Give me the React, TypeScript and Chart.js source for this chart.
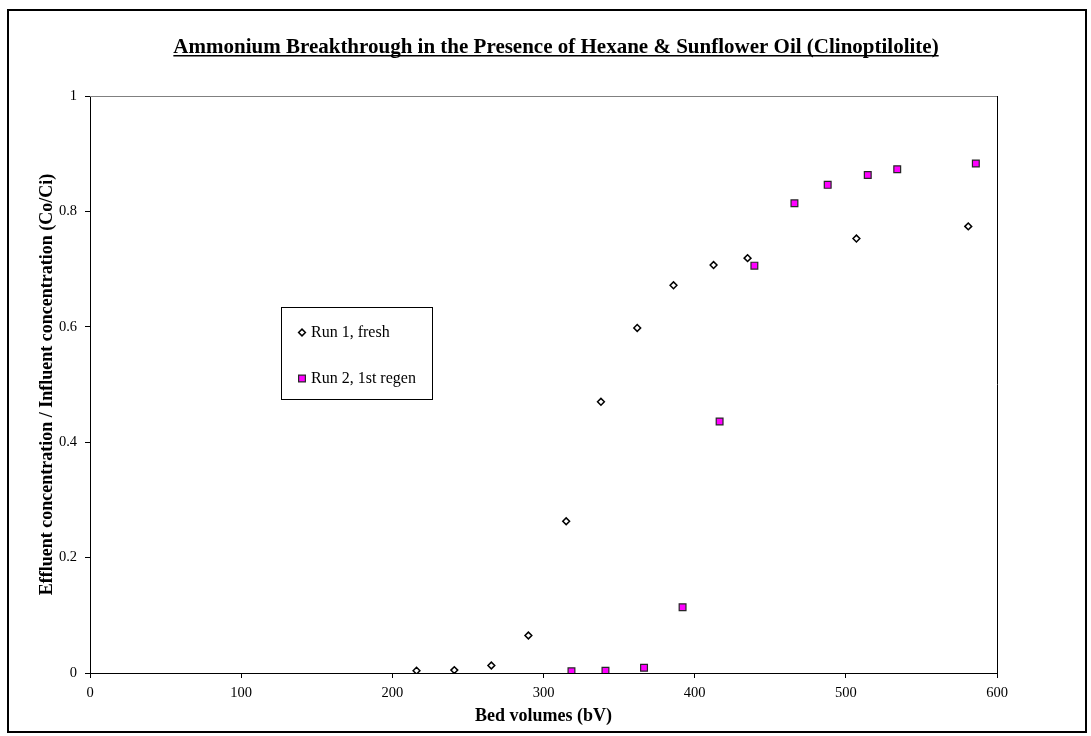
import React, { useEffect, useRef } from 'react';
import { Chart, registerables } from 'chart.js';

Chart.register(...registerables);

const CHART_TITLE = 'Ammonium Breakthrough in the Presence of Hexane & Sunflower Oil (Clinoptilolite)';
const X_TITLE = 'Bed volumes (bV)';
const Y_TITLE = 'Effluent concentration / Influent concentration (Co/Ci)';
const SERIES_LABELS = ['Run 1, fresh', 'Run 2, 1st regen'];

const run1X = [216, 241, 265.5, 290, 315, 338, 362, 386, 412.5, 435, 507, 581];
const run1Y = [0.004, 0.005, 0.013, 0.065, 0.263, 0.47, 0.598, 0.672, 0.707, 0.719, 0.753, 0.774];
const run2X = [318.5, 341, 366.5, 392, 416.5, 439.5, 466, 488, 514.5, 534, 586];
const run2Y = [0.003, 0.004, 0.009, 0.114, 0.436, 0.706, 0.814, 0.846, 0.863, 0.873, 0.883];

const X_MIN = 0;
const X_MAX = 600;
const X_STEP = 100;
const Y_MIN = 0;
const Y_MAX = 1;
const Y_STEP = 0.2;

const SERIF = '"Liberation Serif", "Times New Roman", serif';

function drawMarker(ctx: CanvasRenderingContext2D, ds: any, x: number, y: number) {
  ctx.save();
  ctx.fillStyle = ds.backgroundColor;
  ctx.strokeStyle = ds.borderColor;
  ctx.lineWidth = ds.borderWidth;
  ctx.beginPath();
  const r = ds.pointRadius;
  if (ds.pointStyle === 'rectRot') {
    ctx.moveTo(x - r, y);
    ctx.lineTo(x, y - r);
    ctx.lineTo(x + r, y);
    ctx.lineTo(x, y + r);
    ctx.closePath();
  } else {
    const s = r * Math.SQRT1_2;
    ctx.rect(x - s, y - s, 2 * s, 2 * s);
  }
  ctx.fill();
  ctx.stroke();
  ctx.restore();
}

const decorPlugin = {
  id: 'decor',
  beforeDatasetsDraw(chart: any) {
    const { ctx, chartArea: a } = chart;
    ctx.save();
    ctx.lineWidth = 1;
    ctx.strokeStyle = '#808080';
    ctx.beginPath();
    ctx.moveTo(a.left, a.top + 0.5);
    ctx.lineTo(a.right + 1, a.top + 0.5);
    ctx.stroke();
    ctx.strokeStyle = '#000000';
    ctx.beginPath();
    ctx.moveTo(a.right + 0.5, a.top);
    ctx.lineTo(a.right + 0.5, a.bottom);
    ctx.stroke();
    ctx.restore();
  },
  afterDraw(chart: any) {
    const { ctx } = chart;
    ctx.save();
    // Title with underline
    ctx.font = `bold 21px ${SERIF}`;
    ctx.fillStyle = '#000';
    ctx.textAlign = 'center';
    ctx.textBaseline = 'alphabetic';
    const cx = 556;
    const by = 53;
    ctx.fillText(CHART_TITLE, cx, by);
    const w = ctx.measureText(CHART_TITLE).width;
    ctx.fillRect(cx - w / 2, by + 2, w, 1.5);

    // Legend box
    const lx = 281.5, ly = 307.5, lw = 151, lh = 92;
    ctx.fillStyle = '#fff';
    ctx.fillRect(lx, ly, lw, lh);
    ctx.strokeStyle = '#000';
    ctx.lineWidth = 1;
    ctx.strokeRect(lx, ly, lw, lh);
    const rows = [332.5, 378.5];
    ctx.font = `16px ${SERIF}`;
    ctx.textAlign = 'left';
    ctx.textBaseline = 'middle';
    chart.data.datasets.forEach((ds: any, i: number) => {
      drawMarker(ctx, ds, 302, rows[i]);
      ctx.fillStyle = '#000';
      ctx.fillText(ds.label, 311, rows[i]);
    });
    ctx.restore();
  },
};

const fmt = (v: any) => String(Number(Number(v).toFixed(2)));

export default function App() {
  const canvasRef = useRef<HTMLCanvasElement | null>(null);

  useEffect(() => {
    const canvas = canvasRef.current;
    if (!canvas) return;
    const tickFont = { family: SERIF, size: 14.5 };
    const titleFont = { family: SERIF, size: 18, weight: 'bold' as const };
    const chart = new Chart(canvas, {
      type: 'scatter',
      data: {
        datasets: [
          {
            label: SERIES_LABELS[0],
            data: run1X.map((x, i) => ({ x, y: run1Y[i] })),
            pointStyle: 'rectRot',
            pointRadius: 3.4,
            backgroundColor: '#ffffff',
            borderColor: '#000000',
            borderWidth: 1.5,
            showLine: false,
          },
          {
            label: SERIES_LABELS[1],
            data: run2X.map((x, i) => ({ x, y: run2Y[i] })),
            pointStyle: 'rect',
            pointRadius: 4.8,
            backgroundColor: '#ff00ff',
            borderColor: '#262626',
            borderWidth: 1.2,
            showLine: false,
          },
        ],
      },
      options: {
        responsive: false,
        animation: false,
        layout: { padding: { left: 0, right: 94, top: 96, bottom: 0 } },
        plugins: {
          legend: { display: false },
          title: { display: false },
          tooltip: { enabled: false },
        },
        scales: {
          x: {
            type: 'linear',
            min: X_MIN,
            max: X_MAX,
            ticks: { stepSize: X_STEP, font: tickFont, color: '#000', padding: 6, maxRotation: 0, callback: fmt },
            grid: { drawOnChartArea: false, drawTicks: true, tickLength: 5, color: '#000' },
            border: { display: true, color: '#000', width: 1 },
            title: { display: true, text: X_TITLE, font: titleFont, color: '#000', padding: { top: 0, bottom: 9 } },
            afterFit: (s: any) => { s.height = 63; },
          },
          y: {
            type: 'linear',
            min: Y_MIN,
            max: Y_MAX,
            ticks: { stepSize: Y_STEP, font: tickFont, color: '#000', padding: 8, callback: fmt },
            grid: { drawOnChartArea: false, drawTicks: true, tickLength: 5, color: '#000' },
            border: { display: true, color: '#000', width: 1 },
            title: { display: true, text: Y_TITLE, font: titleFont, color: '#000', padding: { top: 37, bottom: 0 } },
            afterFit: (s: any) => { s.width = 90; },
          },
        },
      },
      plugins: [decorPlugin],
    } as any);
    return () => chart.destroy();
  }, []);

  return (
    <div style={{ position: 'absolute', left: 0, top: 0, width: 1091, height: 736, background: '#fff' }}>
      <canvas ref={canvasRef} width={1091} height={736} style={{ position: 'absolute', left: 0, top: 0, display: 'block' }} />
      <div
        style={{
          position: 'absolute',
          left: 7,
          top: 9,
          width: 1080,
          height: 724,
          border: '2px solid #000',
          boxSizing: 'border-box',
          pointerEvents: 'none',
        }}
      />
    </div>
  );
}
